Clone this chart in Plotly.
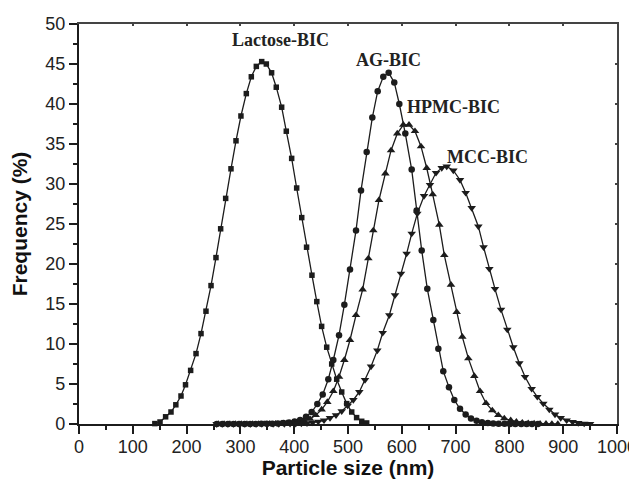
import plotly.graph_objects as go

# ---------------- data ----------------
lactose_x = [141, 150.6, 161, 171, 180, 189.6, 198, 207.5, 217.5, 226.8, 236, 245.4, 254.6, 263.3, 272.6,
             282.5, 291.8, 301, 311, 320.3, 329.6, 339.6, 348.2, 358, 366.7, 376.7, 385.3, 395.3, 404.6, 414,
             423, 433, 442, 451, 460.4, 469.7, 479, 488.3, 497.6, 506.9, 516, 525.5, 534.7]
lactose_y = [0.05, 0.25, 0.9, 1.5, 2.4, 3.5, 4.9, 6.7, 8.8, 11.3, 14.1, 17.3, 20.8, 24.4, 28.2,
             31.9, 35.4, 38.5, 41.3, 43.4, 44.7, 45.3, 45.0, 43.9, 42.1, 39.6, 36.6, 33.2, 29.5, 25.8,
             22.1, 18.6, 15.3, 12.2, 9.6, 7.5, 5.6, 4.0, 2.55, 1.5, 0.8, 0.34, 0.13]

ag_x = [256, 266.4, 276.7, 287, 297.4, 307.7, 318, 328.4, 338.7, 349, 359.4, 369.7, 380, 390.4, 400.7,
        411, 422, 432.5, 443, 453, 463.4, 472.7, 483.3, 493.2, 503.7, 514.9, 524.2, 534.7, 545.2, 555.2,
        565.6, 575.6, 586, 595.4, 606.5, 618.4, 627.6, 637, 647.4, 658.6, 667.9, 677.1, 687.7, 697.6,
        708.2, 718.7, 728.6, 739, 749, 760, 770, 780, 791, 801, 811, 822, 832, 842, 853]
ag_y = [0, 0, 0, 0, 0, 0, 0.01, 0.01, 0.02, 0.03, 0.04, 0.07, 0.11, 0.18, 0.3,
        0.5, 0.9, 1.5, 2.5, 3.7, 5.6, 8.0, 11.1, 14.9, 19.3, 24.2, 29.2, 34.0, 38.3, 41.6,
        43.4, 43.9, 42.7, 40.0, 36.3, 31.8, 26.7, 21.7, 16.9, 13.0, 9.4, 6.6, 4.6, 3.0,
        1.9, 1.2, 0.7, 0.4, 0.22, 0.12, 0.07, 0.04, 0.02, 0.01, 0, 0, 0, 0, 0]

hpmc_x = [259.2, 269.8, 280.4, 291, 301.6, 312.2, 322.8, 333.4, 344, 354.6, 365.2, 375.8, 386.4, 397, 407.6,
          418.2, 429.4, 439.9, 451, 461.5, 472.7, 483.3, 493.2, 503.7, 514.9, 527.2, 537.8, 547, 557.6,
          569.4, 580, 591.6, 602.8, 613.4, 624.5, 635.7, 646.3, 657.4, 669.7, 679, 691.4, 702, 712.5,
          723.7, 734.8, 745.4, 756.5, 768.2, 779.4, 790.5, 802.4, 813, 824, 835, 846, 857, 868, 879, 890]
hpmc_y = [0, 0, 0, 0, 0, 0, 0, 0.01, 0.01, 0.02, 0.03, 0.05, 0.08, 0.14, 0.23,
          0.38, 0.63, 1.1, 1.8, 2.75, 4.1, 5.9, 8.0, 10.5, 13.6, 16.8, 20.7, 24.2, 28.0,
          31.3, 34.2, 36.3, 37.4, 37.4, 36.6, 34.7, 32.0, 28.7, 24.9, 21.1, 17.4, 14.0, 10.9,
          8.2, 6.0, 4.1, 2.6, 1.7, 1.1, 0.7, 0.46, 0.28, 0.17, 0.1, 0.06, 0.03, 0.02, 0.01, 0]

mcc_x = [255.8, 266.3, 276.8, 287.3, 297.8, 308.3, 318.8, 329.3, 339.8, 350.3, 360.8, 371.3, 381.8, 392.3,
         402.8, 413.3, 423.8, 434.3, 444.8, 455.4, 466.5, 477.7, 488.3, 499.4, 509.9, 521, 531.6, 542.8,
         554.5, 564.5, 576.8, 587.4, 598.5, 609, 618.4, 628.8, 641.3, 652.4, 663.6, 674.2, 683.5, 695.8,
         708.2, 718.7, 729.9, 742.3, 752, 762.7, 773.2, 784.4, 796.1, 807.3, 818.4, 829, 841.4, 851.9,
         863, 874.2, 884.8, 895.3, 906.4, 917.5, 928, 939, 950]
mcc_y = [0, 0, 0, 0, 0, 0, 0, 0, 0, 0, 0, 0.01, 0.01, 0.02,
         0.04, 0.06, 0.1, 0.18, 0.3, 0.46, 0.75, 1.1, 1.6, 2.3, 3.0, 4.0, 5.5, 7.2,
         9.2, 11.4, 13.6, 16.1, 18.8, 21.3, 23.8, 26.3, 28.5, 29.9, 31.4, 32.0, 32.2, 31.7,
         30.5, 28.9, 27.0, 24.7, 22.1, 19.4, 16.9, 14.3, 11.8, 9.6, 7.6, 5.9, 4.4, 3.4,
         2.55, 1.8, 1.2, 0.75, 0.46, 0.25, 0.13, 0.05, 0.02]

labels = ["Lactose-BIC", "AG-BIC", "HPMC-BIC", "MCC-BIC"]
label_x = [375, 576, 696, 760]
label_y = [48.0, 45.5, 39.6, 33.4]

x_ticks = [0, 100, 200, 300, 400, 500, 600, 700, 800, 900, 1000]
y_ticks = [0, 5, 10, 15, 20, 25, 30, 35, 40, 45, 50]

# ---------------- figure ----------------
ink = "#1c1c1c"
fig = go.Figure()

series = [
    (lactose_x, lactose_y, "square", 5.5),
    (ag_x, ag_y, "circle", 6.5),
    (hpmc_x, hpmc_y, "triangle-up", 7.5),
    (mcc_x, mcc_y, "triangle-down", 7.5),
]
for (xs, ys, sym, sz), name in zip(series, labels):
    fig.add_trace(go.Scatter(
        x=xs, y=ys, mode="lines+markers", name=name,
        line=dict(color=ink, width=1.3),
        marker=dict(symbol=sym, size=sz, color=ink, line=dict(width=0)),
        cliponaxis=False, showlegend=False,
    ))

# invisible traces to activate the frame axes and the x tick-label axis
fig.add_trace(go.Scatter(x=[0], y=[0], xaxis="x2", yaxis="y2", mode="markers",
                         marker=dict(opacity=0), showlegend=False, hoverinfo="skip"))
fig.add_trace(go.Scatter(x=[0], y=[0], xaxis="x3", yaxis="y", mode="markers",
                         marker=dict(opacity=0), showlegend=False, hoverinfo="skip"))

for t, xx, yy in zip(labels, label_x, label_y):
    fig.add_annotation(x=xx, y=yy, text="<b>%s</b>" % t, showarrow=False,
                       font=dict(family="Liberation Serif", size=18, color="#222"))

tickfont = dict(family="Liberation Sans", size=18, color="#222")
titlefont = dict(family="Liberation Sans", size=21, color="#111")

fig.update_layout(
    width=629, height=471,
    margin=dict(l=71, r=20, t=16, b=55, autoexpand=False),
    paper_bgcolor="white", plot_bgcolor="white",
    xaxis=dict(range=[0, 1000], tickvals=x_ticks, showticklabels=False,
               ticks="outside", ticklen=8, tickwidth=2, tickcolor=ink,
               minor=dict(dtick=50, tick0=0, ticks="outside", ticklen=4, tickwidth=2, tickcolor=ink),
               showline=True, linecolor=ink, linewidth=2.2, showgrid=False, zeroline=False,
               automargin=False),
    xaxis3=dict(range=[0, 1000], overlaying="x", side="bottom", anchor="y",
                tickvals=x_ticks, ticktext=[str(v) for v in x_ticks], ticks="",
                showline=False, showgrid=False, zeroline=False, automargin=False,
                tickfont=tickfont, ticklabelstandoff=10, ticklabeloverflow="allow",
                title=dict(text="<b>Particle size (nm)</b>", font=titlefont, standoff=7)),
    yaxis=dict(range=[0, 50], tickvals=y_ticks, ticktext=[str(v) for v in y_ticks],
               ticks="outside", ticklen=8, tickwidth=2, tickcolor=ink,
               minor=dict(dtick=2.5, tick0=0, ticks="outside", ticklen=4, tickwidth=2, tickcolor=ink),
               showline=True, linecolor=ink, linewidth=2.2, showgrid=False, zeroline=False,
               tickfont=tickfont, automargin=False, ticklabeloverflow="allow",
               title=dict(text="<b>Frequency (%)</b>", font=titlefont, standoff=12)),
    xaxis2=dict(range=[0, 1000], overlaying="x", side="top", dtick=100, tick0=0,
                ticks="inside", ticklen=2, tickwidth=2, tickcolor="#444",
                showline=True, linecolor="#444", linewidth=1.6, showticklabels=False,
                showgrid=False, zeroline=False),
    yaxis2=dict(range=[0, 50], overlaying="y", side="right", dtick=5, tick0=0,
                ticks="inside", ticklen=2, tickwidth=2, tickcolor="#444",
                showline=True, linecolor="#444", linewidth=1.6, showticklabels=False,
                showgrid=False, zeroline=False),
)

fig.write_html("out.html")
